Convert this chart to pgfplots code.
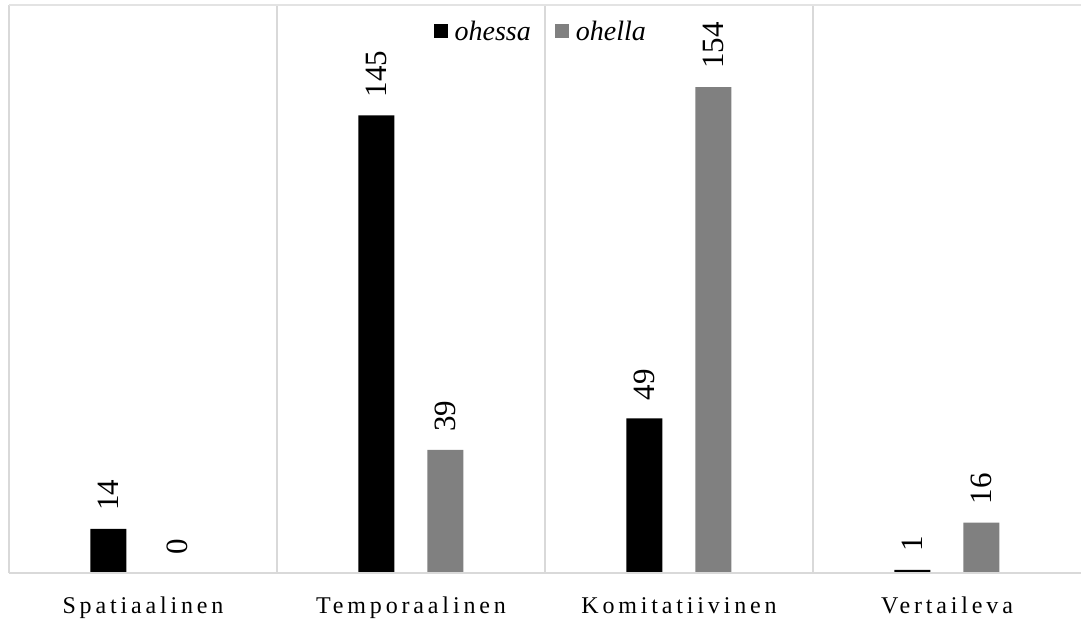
\documentclass[border=0pt]{standalone}
\usepackage{pgfplots}
\pgfplotsset{compat=1.18}
\usepackage{fontspec}
\setmainfont{Liberation Serif}
\newfontfamily\spaced[LetterSpace=16]{Liberation Serif}
\definecolor{sep}{HTML}{D9D9D9}
\definecolor{topl}{HTML}{E3E3E3}
\definecolor{barg}{HTML}{808080}
\pgfplotsset{sqlegend/.style={legend image code/.code={\path[##1,draw=none] (0pt,-7pt) rectangle (14pt,7pt);\path (0pt,0pt) (19pt,0pt);}}}
\begin{document}
\begin{tikzpicture}[x=1pt,y=1pt]
\path[use as bounding box] (0,0) rectangle (1081,621);
\begin{axis}[
  at={(9pt,48pt)}, anchor=south west,
  scale only axis, width=1072pt, height=568pt,
  ymin=0, ymax=180, xmin=-0.5, xmax=3.5,
  ybar=33pt, bar width=36pt,
  axis line style={draw=none},
  ytick=\empty,
  xtick={0,1,2,3},
  xticklabels={Spatiaalinen,Temporaalinen,Komitatiivinen,Vertaileva},
  xticklabel style={font=\fontsize{24}{28}\selectfont\spaced, anchor=north, inner sep=0pt, yshift=-24pt},
  major tick length=0pt,
  minor xtick={-0.5,0.5,1.5,2.5},
  minor tick length=0pt,
  xminorgrids, minor grid style={draw=sep, line width=2pt},
  clip=false,
  /pgf/number format/assume math mode=true,
  nodes near coords={\pgfmathprintnumber[assume math mode=true]{\pgfplotspointmeta}},
  every node near coord/.append style={font=\fontsize{31}{36}\selectfont, rotate=90, anchor=west, inner xsep=18pt, inner ysep=0pt, text=black},
  legend style={at={(0.496,0.954)}, anchor=center, draw=none, fill=none,
    font=\fontsize{28}{32}\selectfont\itshape,
    /tikz/every even column/.append style={column sep=22pt}},
  legend columns=2, legend cell align=left,
]
\addplot[fill=black, draw=none, sqlegend] coordinates {(0,14) (1,145) (2,49) (3,1)};
\addplot[fill=barg, draw=none, sqlegend] coordinates {(0,0) (1,39) (2,154) (3,16)};
\legend{ohessa,ohella}
\draw[sep, line width=2pt] (rel axis cs:0,0) -- (rel axis cs:1,0);
\draw[topl, line width=2pt] (rel axis cs:0,1) -- (rel axis cs:1,1);
\end{axis}
\end{tikzpicture}
\end{document}
